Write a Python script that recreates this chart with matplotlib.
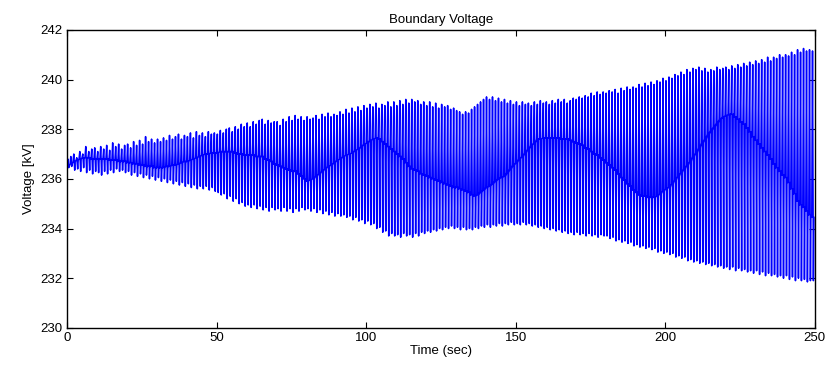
import numpy as np
import matplotlib
matplotlib.use("Agg")
import matplotlib.pyplot as plt

# ==========================================
# DATA (one value per oscillation cycle, ~1 s)
# ==========================================

# peak of each spike [kV]
spike_top = [
    236.8, 236.9, 237.0, 236.85, 237.1, 237.0, 237.3, 237.1, 237.2, 237.25,
    237.1, 237.3, 237.2, 237.35, 237.15, 237.45, 237.3, 237.4, 237.2, 237.35,
    237.4, 237.25, 237.5, 237.35, 237.55, 237.4, 237.7, 237.5, 237.6, 237.45,
    237.6, 237.5, 237.65, 237.55, 237.75, 237.6, 237.7, 237.8, 237.6, 237.75,
    237.7, 237.85, 237.65, 237.9, 237.75, 237.85, 237.7, 237.9, 237.8, 237.85,
    237.8, 237.95, 237.85, 238.0, 238.05, 237.9, 238.1, 238.0, 238.2, 238.1,
    238.25, 238.1, 238.3, 238.2, 238.35, 238.4, 238.2, 238.35, 238.25, 238.3,
    238.3, 238.15, 238.4, 238.3, 238.5, 238.35, 238.55, 238.4, 238.5, 238.35,
    238.5, 238.4, 238.45, 238.55, 238.4, 238.6, 238.5, 238.65, 238.5, 238.6,
    238.55, 238.7, 238.6, 238.8, 238.65, 238.85, 238.7, 238.9, 238.75, 238.95,
    238.85, 239.0, 238.9, 239.05, 238.85, 239.0, 238.95, 239.1, 238.9, 239.1,
    238.95, 239.15, 239.0, 239.2, 239.05, 239.2, 239.1, 239.15, 239.0, 239.1,
    238.95, 239.1, 238.9, 239.05, 238.85, 239.0, 238.9, 238.95, 238.8, 238.85,
    238.75, 238.7, 238.6, 238.7, 238.65, 238.8, 238.9, 239.0, 239.1, 239.2,
    239.3, 239.2, 239.3, 239.15, 239.25, 239.1, 239.2, 239.05, 239.15, 239.0,
    239.1, 238.95, 239.1, 239.0, 239.05, 238.95, 239.1, 239.0, 239.15, 239.05,
    239.1, 239.0, 239.15, 239.05, 239.2, 239.1, 239.2, 239.05, 239.15, 239.25,
    239.2, 239.3, 239.25, 239.35, 239.3, 239.45, 239.35, 239.5, 239.4, 239.5,
    239.45, 239.55, 239.5, 239.6, 239.45, 239.65, 239.55, 239.7, 239.6, 239.7,
    239.65, 239.8, 239.7, 239.85, 239.75, 239.9, 239.8, 239.95, 239.9, 240.05,
    239.95, 240.1, 240.05, 240.2, 240.15, 240.3, 240.2, 240.4, 240.3, 240.45,
    240.4, 240.5, 240.35, 240.45, 240.3, 240.4, 240.35, 240.5, 240.4, 240.45,
    240.5, 240.4, 240.55, 240.45, 240.6, 240.5, 240.65, 240.55, 240.7, 240.6,
    240.75, 240.65, 240.8, 240.7, 240.9, 240.75, 240.9, 240.85, 241.0, 240.9,
    241.0, 240.95, 241.1, 241.0, 241.2, 241.1, 241.25, 241.15, 241.2, 241.15,
]

# trough of each spike [kV]
spike_bottom = [
    236.45, 236.5, 236.35, 236.4, 236.3, 236.45, 236.25, 236.35, 236.2, 236.3,
    236.25, 236.15, 236.3, 236.2, 236.35, 236.25, 236.4, 236.3, 236.35, 236.25,
    236.3, 236.15, 236.25, 236.1, 236.2, 236.05, 236.15, 236.0, 236.1, 235.95,
    236.05, 235.9, 236.0, 235.85, 235.95, 235.8, 235.9, 235.75, 235.85, 235.7,
    235.8, 235.65, 235.75, 235.6, 235.7, 235.6, 235.7, 235.55, 235.65, 235.5,
    235.45, 235.35, 235.4, 235.2, 235.3, 235.1, 235.2, 235.0, 235.05, 234.9,
    234.95, 234.85, 234.95, 234.8, 234.9, 234.75, 234.85, 234.7, 234.85, 234.75,
    234.8, 234.7, 234.85, 234.7, 234.8, 234.65, 234.8, 234.7, 234.85, 234.75,
    234.8, 234.7, 234.8, 234.65, 234.75, 234.6, 234.7, 234.55, 234.65, 234.5,
    234.6, 234.5, 234.55, 234.45, 234.5, 234.35, 234.45, 234.3, 234.35, 234.2,
    234.3, 234.15, 234.2, 234.0, 234.05, 233.85, 233.9, 233.7, 233.8, 233.7,
    233.75, 233.65, 233.8, 233.7, 233.75, 233.65, 233.8, 233.7, 233.85, 233.8,
    233.9, 233.85, 233.95, 233.9, 234.0, 233.95, 234.05, 234.0, 234.1, 234.0,
    234.05, 233.95, 234.05, 233.95, 234.0, 233.95, 234.05, 234.0, 234.1, 234.05,
    234.15, 234.05, 234.15, 234.1, 234.2, 234.1, 234.2, 234.15, 234.25, 234.15,
    234.2, 234.15, 234.25, 234.15, 234.2, 234.1, 234.15, 234.05, 234.1, 234.0,
    234.05, 233.95, 234.0, 233.9, 233.95, 233.85, 233.9, 233.8, 233.85, 233.75,
    233.85, 233.75, 233.8, 233.7, 233.8, 233.7, 233.75, 233.65, 233.75, 233.7,
    233.7, 233.6, 233.65, 233.5, 233.55, 233.45, 233.5, 233.4, 233.45, 233.3,
    233.35, 233.25, 233.3, 233.2, 233.25, 233.15, 233.2, 233.05, 233.1, 233.0,
    233.05, 232.95, 233.0, 232.85, 232.9, 232.8, 232.85, 232.7, 232.75, 232.65,
    232.7, 232.6, 232.65, 232.55, 232.6, 232.5, 232.55, 232.45, 232.5, 232.4,
    232.45, 232.35, 232.45, 232.3, 232.4, 232.3, 232.35, 232.25, 232.3, 232.2,
    232.3, 232.15, 232.25, 232.1, 232.2, 232.1, 232.15, 232.05, 232.1, 232.0,
    232.1, 231.95, 232.05, 231.9, 232.0, 231.9, 231.95, 231.85, 231.9, 231.9,
]

# level between spikes (the slow wavy curve) [kV]
spike_base = [
    236.5, 236.6, 236.7, 236.75, 236.8, 236.85, 236.85, 236.85, 236.8, 236.8,
    236.8, 236.8, 236.8, 236.8, 236.75, 236.75, 236.75, 236.7, 236.7, 236.7,
    236.65, 236.65, 236.6, 236.6, 236.55, 236.55, 236.5, 236.5, 236.5, 236.45,
    236.45, 236.45, 236.45, 236.5, 236.5, 236.55, 236.55, 236.6, 236.65, 236.7,
    236.7, 236.75, 236.8, 236.85, 236.9, 236.95, 237.0, 237.0, 237.05, 237.05,
    237.05, 237.1, 237.1, 237.1, 237.1, 237.1, 237.05, 237.0, 237.0, 236.95,
    236.95, 236.95, 236.95, 236.9, 236.9, 236.9, 236.8, 236.75, 236.7, 236.6,
    236.55, 236.5, 236.45, 236.4, 236.35, 236.3, 236.3, 236.2, 236.1, 236.0,
    235.9, 235.95, 236.0, 236.1, 236.2, 236.3, 236.4, 236.5, 236.55, 236.65,
    236.75, 236.8, 236.9, 236.95, 237.0, 237.05, 237.15, 237.2, 237.3, 237.4,
    237.45, 237.55, 237.6, 237.65, 237.6, 237.5, 237.4, 237.3, 237.2, 237.1,
    237.0, 236.9, 236.8, 236.65, 236.5, 236.4, 236.35, 236.3, 236.2, 236.15,
    236.1, 236.05, 236.0, 235.95, 235.9, 235.85, 235.8, 235.75, 235.7, 235.65,
    235.65, 235.6, 235.55, 235.5, 235.45, 235.35, 235.3, 235.35, 235.45, 235.55,
    235.65, 235.7, 235.8, 235.9, 236.0, 236.05, 236.1, 236.25, 236.4, 236.55,
    236.65, 236.8, 236.9, 237.05, 237.2, 237.35, 237.45, 237.6, 237.6, 237.65,
    237.65, 237.65, 237.65, 237.65, 237.65, 237.6, 237.6, 237.6, 237.55, 237.5,
    237.45, 237.4, 237.35, 237.25, 237.2, 237.1, 237.0, 236.95, 236.85, 236.75,
    236.65, 236.55, 236.45, 236.35, 236.2, 236.05, 235.95, 235.8, 235.7, 235.55,
    235.45, 235.35, 235.3, 235.3, 235.25, 235.25, 235.25, 235.3, 235.4, 235.5,
    235.6, 235.65, 235.8, 235.95, 236.1, 236.25, 236.4, 236.55, 236.7, 236.9,
    237.05, 237.25, 237.45, 237.6, 237.8, 237.95, 238.1, 238.25, 238.4, 238.5,
    238.55, 238.6, 238.6, 238.5, 238.4, 238.3, 238.2, 238.05, 237.9, 237.7,
    237.55, 237.4, 237.25, 237.1, 236.95, 236.8, 236.6, 236.45, 236.3, 236.15,
    236.05, 235.85, 235.6, 235.4, 235.1, 234.95, 234.85, 234.7, 234.55, 234.45,
]

x_ticks = [0, 50, 100, 150, 200, 250]
y_ticks = [230, 232, 234, 236, 238, 240, 242]

# ==========================================
# BUILD THE WAVEFORM
# ==========================================

top = np.array(spike_top)
bot = np.array(spike_bottom)
base = np.array(spike_base)
n = len(top)
t0 = np.arange(n) * (250.0 / n)

# each cycle: base -> top -> bottom -> base, short flat run to next cycle
t = np.column_stack([t0, t0 + 0.25, t0 + 0.55, t0 + 0.72]).ravel()
v = np.column_stack([base, top, bot, base]).ravel()

# ==========================================
# PLOT
# ==========================================

plt.rcParams['font.family'] = ['Liberation Sans', 'DejaVu Sans']

fig = plt.figure(figsize=(8.28, 3.73), dpi=100)
ax = fig.add_axes([0.081, 0.121, 0.903, 0.799])

ax.plot(t, v, color=(0, 0, 1), linewidth=1.1)

ax.set_xlim(0, 250)
ax.set_ylim(230, 242)
ax.set_xticks(x_ticks)
ax.set_yticks(y_ticks)

ax.tick_params(direction='in', top=True, right=True, length=4,
               labelsize=9.5, pad=3)
for s in ax.spines.values():
    s.set_linewidth(1.0)

ax.set_title("Boundary Voltage", fontsize=9.5, pad=5)
ax.set_xlabel("Time (sec)", fontsize=9.5, labelpad=1)
ax.set_ylabel("Voltage [kV]", fontsize=9.5, labelpad=4)

fig.savefig("out.png", dpi=100)
